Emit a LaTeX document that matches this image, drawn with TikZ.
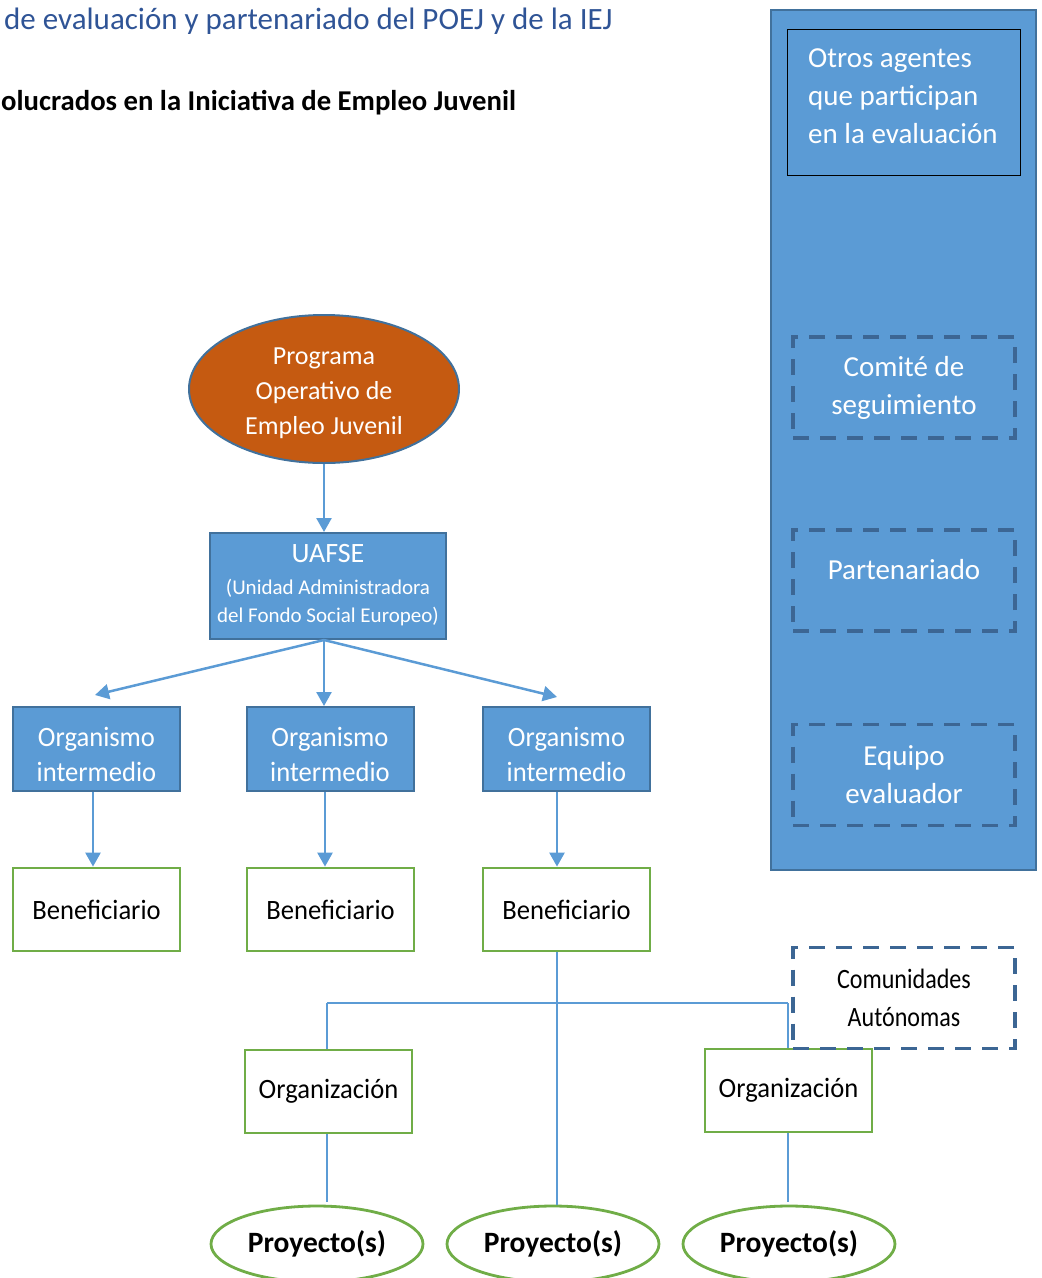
\documentclass[tikz,border=0pt]{standalone}
\usepackage{fontspec}
\setmainfont{Carlito}
\newfontfamily\condfont{Carlito}[FakeStretch=0.95]
\newfontfamily\ccfont{Carlito}[FakeStretch=0.86]
\usetikzlibrary{shapes.geometric,arrows.meta}
\definecolor{fillblue}{RGB}{91,155,213}
\definecolor{edgeblue}{RGB}{65,113,156}
\definecolor{dashblue}{RGB}{60,102,148}
\definecolor{orng}{RGB}{197,90,17}
\definecolor{grn}{RGB}{112,173,71}
\definecolor{ttl}{RGB}{47,84,150}
\tikzset{
  bluebox/.style={draw=edgeblue, fill=fillblue, line width=2pt, text=white, align=center, inner sep=0pt},
  greenbox/.style={draw=grn, fill=white, line width=2.8pt, text=black, align=center, inner sep=0pt, minimum width=167pt, minimum height=83pt, font=\condfont\fontsize{28}{35}\selectfont},
  orgbox/.style={bluebox, minimum width=167pt, minimum height=84pt},
  orgtext/.style={text=white, align=center, inner sep=0pt, font=\condfont\fontsize{28}{35}\selectfont},
  dashbox/.style={draw=dashblue, line width=3.2pt, dash pattern=on 16pt off 11pt, align=center, inner sep=0pt, minimum width=222pt, minimum height=101pt},
  proj/.style={ellipse, draw=grn, fill=white, line width=2.8pt, minimum width=212pt, minimum height=76pt, inner sep=0pt, font=\fontsize{29.5}{34}\selectfont\bfseries},
  arr/.style={draw=fillblue, line width=2.5pt, -{Triangle[length=14pt,width=15pt]}},
  thin/.style={draw=fillblue, line width=1.2pt}
}
\begin{document}
\begin{tikzpicture}[x=1pt,y=-1pt]
\useasboundingbox (0,0) rectangle (1042,1278);
% headings
\node[anchor=west, text=ttl, inner sep=0pt, font=\fontsize{31}{36}\selectfont] (title) at (4,21) {de evaluación y partenariado del POEJ y de la IEJ};
\node[anchor=west, inner sep=0pt, font=\fontsize{28.7}{32}\selectfont\bfseries] (sub) at (1,103) {olucrados en la Iniciativa de Empleo Juvenil};
% right panel
\node[draw=edgeblue, fill=fillblue, line width=2pt, minimum width=265pt, minimum height=860pt, inner sep=0pt] (panel) at (903.5,440) {};
\node[draw=black, fill=fillblue, line width=1pt, minimum width=233pt, minimum height=146pt, inner sep=0pt] (otros) at (903.5,102) {};
\node[anchor=west, text=white, align=left, inner sep=0pt, font=\fontsize{29}{38}\selectfont] (otrostxt) at (808,96) {Otros agentes\\que participan\\en la evaluación};
\node[dashbox, text=white, font=\fontsize{29}{38}\selectfont] (comite) at (904,387.5) {Comité de\\seguimiento};
\node[dashbox] (parten) at (904,580.5) {};
\node[text=white, inner sep=0pt, font=\fontsize{29}{38}\selectfont] (partentxt) at (904,570) {Partenariado};
\node[dashbox, text=white, font=\fontsize{29}{38}\selectfont] (equipo) at (904,775) {Equipo\\evaluador};
% main tree
\node[ellipse, draw=edgeblue, fill=orng, line width=2pt, minimum width=270pt, minimum height=148pt, inner sep=0pt] (poej) at (324,389) {};
\node[text=white, align=center, inner sep=0pt, font=\fontsize{26}{35}\selectfont] (poejtxt) at (324,393) {Programa\\Operativo de\\Empleo Juvenil};
\node[bluebox, minimum width=236pt, minimum height=106pt] (uafse) at (328,586) {};
\node[text=white, inner sep=0pt, font=\fontsize{28}{34}\selectfont] (uafsetxt) at (328,554) {UAFSE};
\node[text=white, inner sep=0pt, align=center, font=\fontsize{21}{28}\selectfont] (uafsesub) at (328,603) {(Unidad Administradora\\del Fondo Social Europeo)};
\node[orgbox] (o1) at (96.5,749) {};
\node[orgbox] (o2) at (330,749) {};
\node[orgbox] (o3) at (566.5,749) {};
\node[orgtext] (o1t) at (96.5,754) {Organismo\\intermedio};
\node[orgtext] (o2t) at (330,754) {Organismo\\intermedio};
\node[orgtext] (o3t) at (566.5,754) {Organismo\\intermedio};
\node[greenbox] (b1) at (96.5,909.5) {Beneficiario};
\node[greenbox] (b2) at (330.5,909.5) {Beneficiario};
\node[greenbox] (b3) at (566.5,909.5) {Beneficiario};
\node[greenbox] (g1) at (328.5,1091.5) {Organización};
\node[greenbox] (g2) at (788.5,1090.5) {Organización};
\node[proj] (p1) at (317,1244) {Proyecto(s)};
\node[proj] (p2) at (553,1244) {Proyecto(s)};
\node[proj] (p3) at (789,1244) {Proyecto(s)};
% arrows
\coordinate (t1) at (95,695);
\coordinate (t3) at (557,697);
\draw[arr] (poej.south) -- (uafse.north -| poej.south);
\draw[arr] (uafse.south -| poej.south) -- (t1);
\draw[arr] (uafse.south -| poej.south) -- (o2.north -| poej.south);
\draw[arr] (uafse.south -| poej.south) -- (t3);
\draw[arr] (o1.south -| 93,0) -- (b1.north -| 93,0);
\draw[arr] (o2.south -| 325,0) -- (b2.north -| 325,0);
\draw[arr] (o3.south -| t3) -- (b3.north -| t3);
% thin tree lines
\coordinate (jl) at (327,1003);
\coordinate (jr) at (788,1003);
\draw[thin] (b3.south -| t3) -- (p2.north -| t3);
\draw[thin] (jl) -- (jr);
\draw[thin] (jl) -- (g1.north -| jl);
\draw[thin] (jr) -- (g2.north -| jr);
\draw[thin] (g1.south -| jl) -- ([yshift=3pt]p1.north -| jl);
\draw[thin] (g2.south -| jr) -- ([yshift=3pt]p3.north -| jr);
% comunidades
\node[dashbox, text=black, font=\ccfont\fontsize{28}{38}\selectfont] (ccaa) at (904,998) {Comunidades\\Autónomas};
\end{tikzpicture}
\end{document}
